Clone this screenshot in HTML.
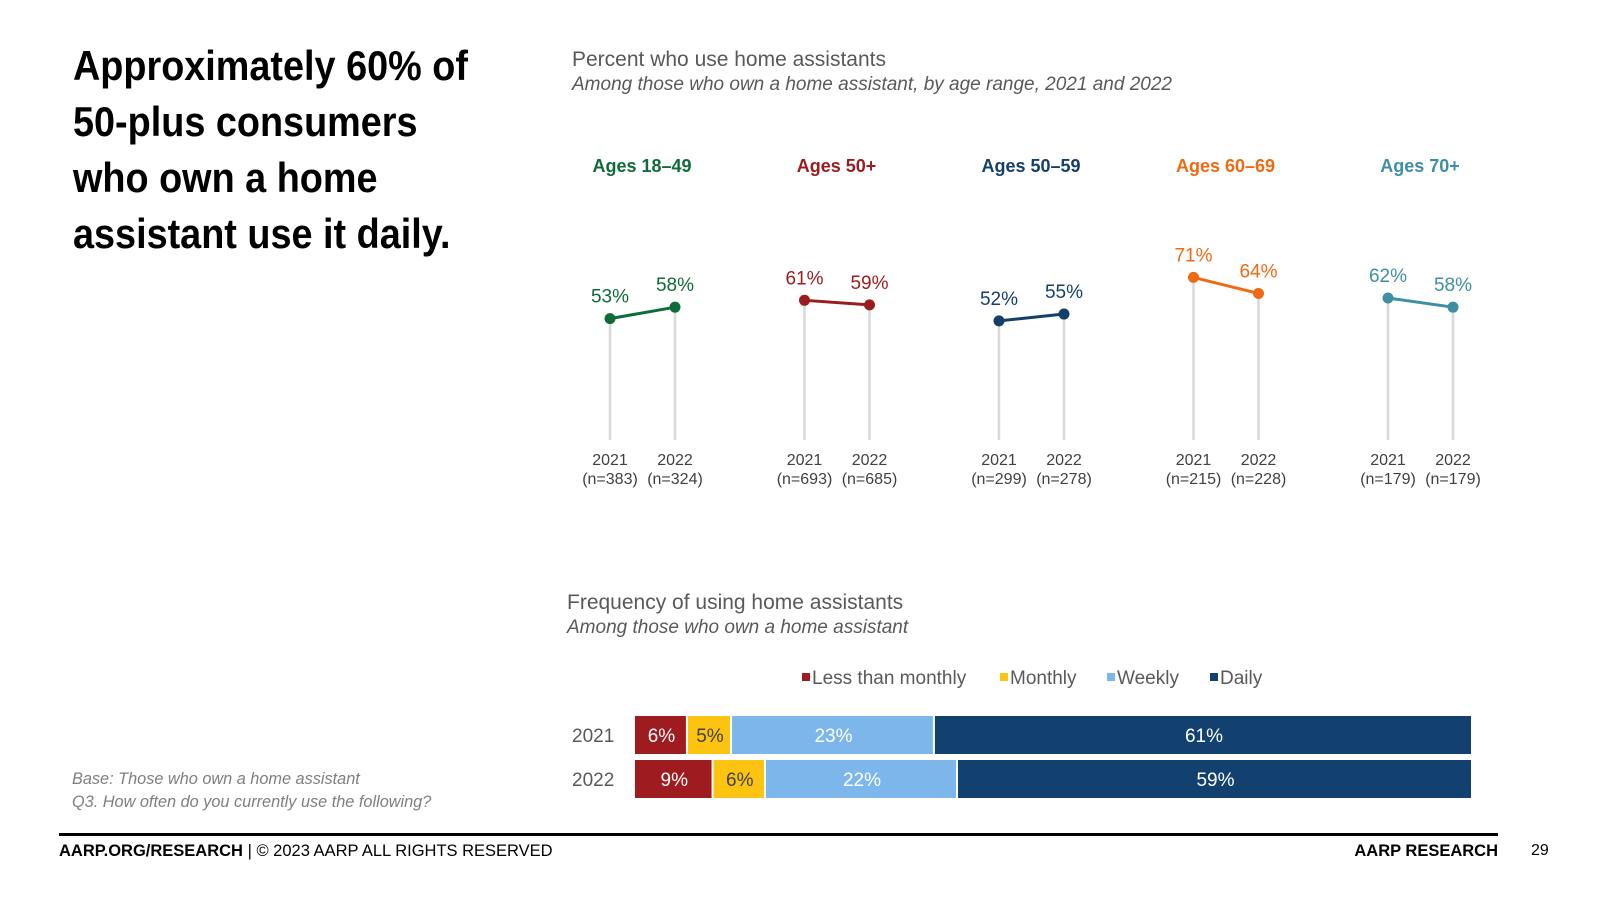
<!DOCTYPE html>
<html><head><meta charset="utf-8"><style>
body{margin:0;width:1600px;height:900px;background:#fff;font-family:"Liberation Sans",Arial,sans-serif;overflow:hidden;position:relative}
.a{position:absolute;white-space:nowrap}
</style></head><body>
<div class="a" style="left:73px;top:38px;font-family:'Liberation Sans Narrow','Liberation Sans',sans-serif;font-weight:bold;font-size:42px;line-height:56px;color:#000;transform:scaleX(0.9);transform-origin:0 0">Approximately 60% of<br>50-plus consumers<br>who own a home<br>assistant use it daily.</div>
<div class="a" style="left:572px;top:48px;font-size:21px;color:#595959">Percent who use home assistants</div>
<div class="a" style="left:572px;top:74px;font-size:19px;font-style:italic;color:#595959">Among those who own a home assistant, by age range, 2021 and 2022</div>
<div class="a" style="left:567px;top:591px;font-size:21px;color:#595959">Frequency of using home assistants</div>
<div class="a" style="left:567px;top:617px;font-size:19px;font-style:italic;color:#595959">Among those who own a home assistant</div>
<div class="a" style="left:72px;top:770px;font-size:16.3px;font-style:italic;color:#7f7f7f">Base: Those who own a home assistant</div>
<div class="a" style="left:72px;top:793px;font-size:16.3px;font-style:italic;color:#7f7f7f">Q3. How often do you currently use the following?</div>
<div class="a" style="left:59px;top:833px;width:1439px;height:3px;background:#000"></div>
<div class="a" style="left:59px;top:842px;font-size:16.5px;color:#000"><b>AARP.ORG/RESEARCH</b> | © 2023 AARP ALL RIGHTS RESERVED</div>
<div class="a" style="right:102px;top:842px;font-size:16.5px;font-weight:bold;color:#000">AARP RESEARCH</div>
<div class="a" style="left:1531px;top:842px;font-size:16px;color:#000">29</div>
<svg id="chart" class="a" style="left:0;top:0" width="1600" height="900"></svg>
<script>
const groups=["Ages 18–49","Ages 50+","Ages 50–59","Ages 60–69","Ages 70+"];
const v2021=[53,61,52,71,62];
const v2022=[58,59,55,64,58];
const n2021=["(n=383)","(n=693)","(n=299)","(n=215)","(n=179)"];
const n2022=["(n=324)","(n=685)","(n=278)","(n=228)","(n=179)"];
const gColors=["#0f6b3a","#9b1c1f","#143f6b","#ee6a13","#3f8fa3"];
const years=["2021","2022"];
const cats=["Less than monthly","Monthly","Weekly","Daily"];
const catColors=["#9e1b1f","#fdc311","#7db6ea","#124170"];
const freq2021=[6,5,23,61];
const freq2022=[9,6,22,59];
const NS="http://www.w3.org/2000/svg";
const svg=document.getElementById('chart');
function mk(t,at,txt){const e=document.createElementNS(NS,t);for(const k in at)e.setAttribute(k,at[k]);if(txt!=null)e.textContent=txt;svg.appendChild(e);return e;}
const y=v=>440-2.29*v;
const gx=i=>610+194.5*i;
groups.forEach((g,i)=>{
  const x1=gx(i),x2=x1+65,c=gColors[i];
  let e=mk('text',{x:x1+32,y:172,'text-anchor':'middle','font-size':18,'font-weight':'bold',fill:c},g);
  
  [[x1,v2021[i],years[0],n2021[i]],[x2,v2022[i],years[1],n2022[i]]].forEach(([x,v,yr,n])=>{
    e=mk('line',{x1:x,x2:x,y1:y(v),y2:440,stroke:'#d9d9d9','stroke-width':2.5});
    
    e=mk('text',{x:x,y:465,'text-anchor':'middle','font-size':16,fill:'#404040'},yr);
    
    e=mk('text',{x:x,y:484,'text-anchor':'middle','font-size':16,fill:'#404040'},n);
    
  });
  e=mk('line',{x1:x1,y1:y(v2021[i]),x2:x2,y2:y(v2022[i]),stroke:c,'stroke-width':3});
  
  [[x1,v2021[i]],[x2,v2022[i]]].forEach(([x,v])=>{
    e=mk('circle',{cx:x,cy:y(v),r:5.5,fill:c});
    
    e=mk('text',{x:x,y:y(v)-16,'text-anchor':'middle','font-size':19,fill:c},v+'%');
    
  });
});
const legX=[802,1000,1107,1210];
cats.forEach((c,i)=>{
  let e=mk('rect',{x:legX[i],y:673,width:8,height:8,fill:catColors[i]});
  
  e=mk('text',{x:legX[i]+10,y:684,'font-size':19,fill:'#595959'},c);
  
});
const bx0=635,bx1=1473;
[[freq2021,716],[freq2022,760]].forEach(([vals,top],r)=>{
  let e=mk('text',{x:572,y:top+26,'font-size':19,fill:'#595959'},years[r]);
  
  const tot=vals.reduce((a,b)=>a+b,0);let x=bx0;
  vals.forEach((v,i)=>{
    const w=(bx1-bx0)*v/tot;
    e=mk('rect',{x:x,y:top,width:Math.max(0,w-2),height:38,fill:catColors[i]});
    
    e=mk('text',{x:x+w/2,y:top+26,'text-anchor':'middle','font-size':19,fill:i==1?'#404040':'#fff'},v+'%');
    
    x+=w;
  });
});
</script>
</body></html>
